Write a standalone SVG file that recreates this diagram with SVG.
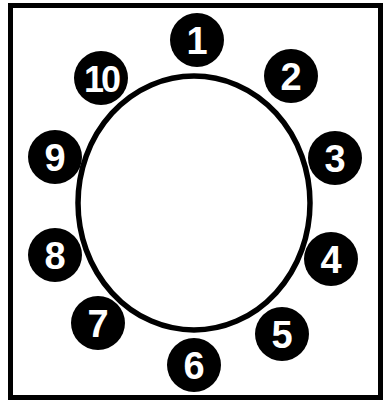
<svg xmlns="http://www.w3.org/2000/svg" width="388" height="408" viewBox="0 0 388 408">
<style>
.n circle{fill:#000}
.n text{fill:#fff;font-family:"Liberation Sans",Arial,sans-serif;font-weight:bold;font-size:38px;text-anchor:middle;dominant-baseline:central}
</style>
<rect x="0" y="0" width="388" height="408" fill="#fff"/>
<rect x="10.5" y="5.5" width="370" height="392" fill="none" stroke="#000" stroke-width="5"/>
<g id="connectors">
<ellipse cx="194" cy="203" rx="116" ry="127" fill="#fff" stroke="#000" stroke-width="5.5"/>
</g>
<g id="n1" class="n"><circle cx="197" cy="40" r="27"/><text x="197" y="41">1</text></g>
<g id="n2" class="n"><circle cx="291" cy="76" r="27"/><text x="291" y="77">2</text></g>
<g id="n3" class="n"><circle cx="335" cy="158" r="27"/><text x="335" y="159">3</text></g>
<g id="n4" class="n"><circle cx="331" cy="259" r="27"/><text x="331" y="260">4</text></g>
<g id="n5" class="n"><circle cx="282" cy="334" r="27"/><text x="282" y="335">5</text></g>
<g id="n6" class="n"><circle cx="194" cy="365" r="27"/><text x="194" y="366">6</text></g>
<g id="n7" class="n"><circle cx="98" cy="323" r="27"/><text x="98" y="324">7</text></g>
<g id="n8" class="n"><circle cx="55" cy="255" r="27"/><text x="55" y="256">8</text></g>
<g id="n9" class="n"><circle cx="55" cy="157" r="27"/><text x="55" y="158">9</text></g>
<g id="n10" class="n"><circle cx="101" cy="78" r="27"/><text x="101" y="79" style="font-size:36px;letter-spacing:-3px">10</text></g>
</svg>
